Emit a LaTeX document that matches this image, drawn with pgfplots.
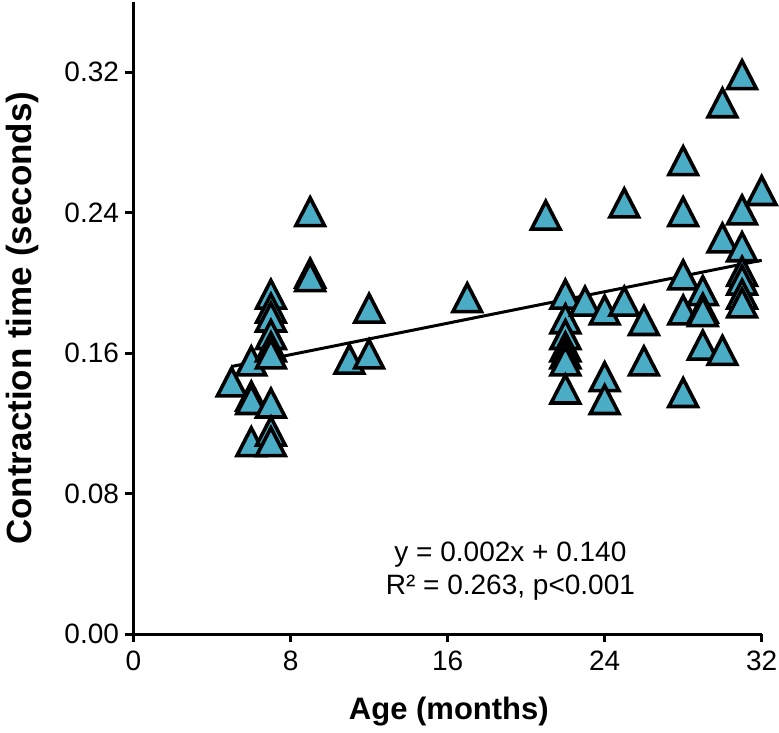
\documentclass[border=0pt]{standalone}
\usepackage{fontspec}
\setmainfont{Liberation Sans}
\usepackage{pgfplots}
\pgfplotsset{compat=1.18}
\definecolor{tri}{RGB}{75,172,198}
\begin{document}
\begin{tikzpicture}
\useasboundingbox (-133.5pt,-97.7pt) rectangle (645.5pt,634.3pt);
\begin{axis}[
  at={(0pt,0pt)}, anchor=south west,
  scale only axis, width=628.2pt, height=632.2pt,
  xmin=0, xmax=32, ymin=0, ymax=0.36,
  axis lines=left,
  axis line style={-, line width=2.8pt},
  x axis line style={-}, y axis line style={-},
  xtick={0,8,16,24,32},
  ytick={0,0.08,0.16,0.24,0.32},
  tick align=outside, tick pos=left,
  major tick length=8pt,
  tick style={black, line width=2.8pt},
  /pgf/number format/assume math mode=true,
  yticklabel style={/pgf/number format/fixed, /pgf/number format/fixed zerofill, /pgf/number format/precision=2, font=\fontsize{28}{33}\selectfont, xshift=-3pt},
  xticklabel style={font=\fontsize{28}{33}\selectfont, yshift=-5pt},
  xlabel={\bfseries Age (months)},
  ylabel={\bfseries Contraction time (seconds)},
  xlabel style={font=\fontsize{31}{37}\selectfont, at={(axis description cs:0.502,-0.1229)}, anchor=center},
  ylabel style={font=\fontsize{35}{41}\selectfont, at={(axis description cs:-0.1775,0.5)}, anchor=center},
  clip=false,
]
\addplot[only marks, mark=triangle*, mark size=16.5pt,
  mark options={fill=tri, draw=black, line width=3.6pt, yscale=1.12}]
  table[row sep=\\] {
  x y\\
  5 0.141\\
  6 0.153\\
  6 0.133\\
  6 0.131\\
  6 0.107\\
  7 0.191\\
  7 0.183\\
  7 0.178\\
  7 0.168\\
  7 0.161\\
  7 0.157\\
  7 0.129\\
  7 0.113\\
  7 0.107\\
  9 0.238\\
  9 0.203\\
  9 0.201\\
  11 0.154\\
  12 0.183\\
  12 0.157\\
  17 0.189\\
  21 0.236\\
  22 0.191\\
  22 0.177\\
  22 0.168\\
  22 0.161\\
  22 0.157\\
  22 0.153\\
  22 0.137\\
  23 0.187\\
  24 0.182\\
  24 0.144\\
  24 0.131\\
  25 0.243\\
  25 0.187\\
  26 0.176\\
  26 0.153\\
  28 0.267\\
  28 0.238\\
  28 0.202\\
  28 0.182\\
  28 0.135\\
  29 0.193\\
  29 0.183\\
  29 0.181\\
  29 0.162\\
  30 0.300\\
  30 0.223\\
  30 0.159\\
  31 0.316\\
  31 0.239\\
  31 0.218\\
  31 0.204\\
  31 0.199\\
  31 0.191\\
  31 0.186\\
  32 0.250\\
  };
\addplot[black, line width=3pt] coordinates {(5,0.1525) (32,0.2130)};
\node[align=center, font=\fontsize{28}{33}\selectfont] at (axis cs:19.2,0.036) {y = 0.002x + 0.140\\R² = 0.263, p<0.001};
\end{axis}
\end{tikzpicture}
\end{document}
